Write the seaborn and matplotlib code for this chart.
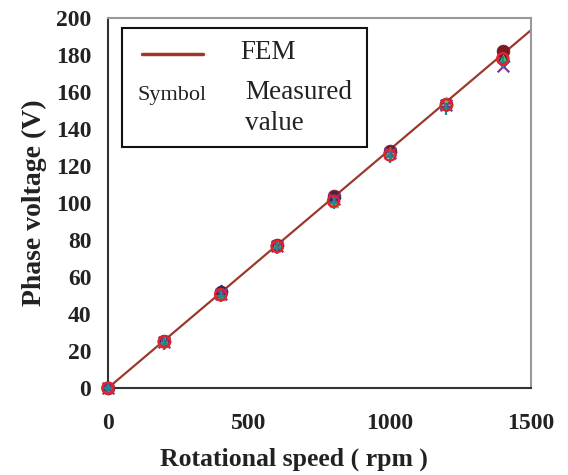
import matplotlib
matplotlib.use("Agg")
import matplotlib.pyplot as plt
import seaborn as sns
import pandas as pd
from matplotlib.patches import Rectangle
from matplotlib.lines import Line2D

# FEM prediction (straight line)
fem_speed = [0, 1500]
fem_voltage = [0, 193.5]

# Measured phase voltage for several test runs
speed = [0, 200, 400, 600, 800, 1000, 1200, 1400]
run_filled = [0, 25.5, 52.0, 77.5, 104.0, 128.0, 153.5, 182.0]
run_navy = [0, 25.0, 52.5, 77.0, 103.0, 127.5, 153.0, 177.0]
run_plus = [0, 24.0, 50.0, 75.5, 100.0, 125.0, 151.0, 176.0]
run_tri = [0, 26.0, 50.0, 78.0, 100.0, 128.0, 155.0, 178.0]
run_cross = [0, 25.0, 51.0, 77.0, 102.0, 127.0, 153.0, 174.0]
run_open = [0, 25.0, 50.5, 76.5, 101.0, 126.0, 153.0, 178.0]

sns.set_theme(style="white")
plt.rcParams["font.family"] = ["Liberation Serif", "DejaVu Serif"]

fig = plt.figure(figsize=(5.68, 4.75), dpi=100)
ax = fig.add_axes([0.190, 0.183, 0.745, 0.779])

line_color = "#9b3a2c"
sns.lineplot(x=fem_speed, y=fem_voltage, ax=ax, color=line_color, lw=1.6, zorder=2)

runs = [
    (run_filled, "o", "#7a1a22", "#7a1a22", 85, None),
    (run_navy, "D", "#2b2a6a", "#2b2a6a", 45, None),
    (run_tri, "^", "#6cc04a", "#6cc04a", 40, None),
    (run_cross, "x", None, "#7a3b98", 70, 1.6),
    (run_plus, "+", None, "#1f8a8a", 80, 1.6),
]
for vals, mk, fc, ec, s, lw in runs:
    df = pd.DataFrame({"speed": speed, "voltage": vals})
    kw = dict(data=df, x="speed", y="voltage", ax=ax, marker=mk, s=s, zorder=3,
              legend=False, clip_on=False)
    if fc is None:
        kw.update(color=ec, linewidth=lw)
    else:
        kw.update(color=fc, edgecolor=ec, linewidth=0.5)
    sns.scatterplot(**kw)

df_open = pd.DataFrame({"speed": speed, "voltage": run_open})
sns.scatterplot(data=df_open, x="speed", y="voltage", ax=ax, marker="o", s=65,
                facecolor="none", edgecolor="#e8202a", linewidth=1.7, zorder=4,
                legend=False, clip_on=False)

ax.set_xlim(0, 1500)
ax.set_ylim(0, 200)
ax.set_xticks([0, 500, 1000, 1500])
ax.set_yticks(range(0, 201, 20))
ax.tick_params(axis="both", direction="in", length=6, width=1, color="#333333",
               labelsize=17)
ax.tick_params(axis="y", pad=12)
ax.tick_params(axis="x", pad=18)
for lbl in ax.get_xticklabels() + ax.get_yticklabels():
    lbl.set_fontweight("bold")
    lbl.set_color("#222222")

for side in ["left", "bottom"]:
    ax.spines[side].set_color("#333333")
    ax.spines[side].set_linewidth(1.5)
for side in ["top", "right"]:
    ax.spines[side].set_color("#999999")
    ax.spines[side].set_linewidth(1.5)

ax.set_xlabel("Rotational speed ( rpm )", fontsize=18.5, fontweight="bold", color="#222222")
ax.xaxis.set_label_coords(0.44, -0.160)
ax.set_ylabel("Phase voltage (V)", fontsize=20, fontweight="bold", color="#222222", labelpad=6)

# Legend box drawn by hand: line sample for FEM, the word "Symbol" for measured data
ax.add_patch(Rectangle((0.033, 0.651), 0.579, 0.322, transform=ax.transAxes,
                       facecolor="white", edgecolor="#111111", lw=1.5, zorder=5))
ax.add_line(Line2D([0.080, 0.225], [0.903, 0.903], transform=ax.transAxes,
                   color=line_color, lw=2.5, zorder=6))
ax.text(0.312, 0.889, "FEM", transform=ax.transAxes, fontsize=19.5, color="#222222",
        ha="left", va="baseline", zorder=6)
ax.text(0.071, 0.778, "Symbol", transform=ax.transAxes, fontsize=16, color="#222222",
        ha="left", va="baseline", zorder=6)
ax.text(0.324, 0.781, "Measured", transform=ax.transAxes, fontsize=19.5, color="#222222",
        ha="left", va="baseline", zorder=6)
ax.text(0.324, 0.697, "value", transform=ax.transAxes, fontsize=19.5, color="#222222",
        ha="left", va="baseline", zorder=6)

fig.savefig("out.png", dpi=100)
